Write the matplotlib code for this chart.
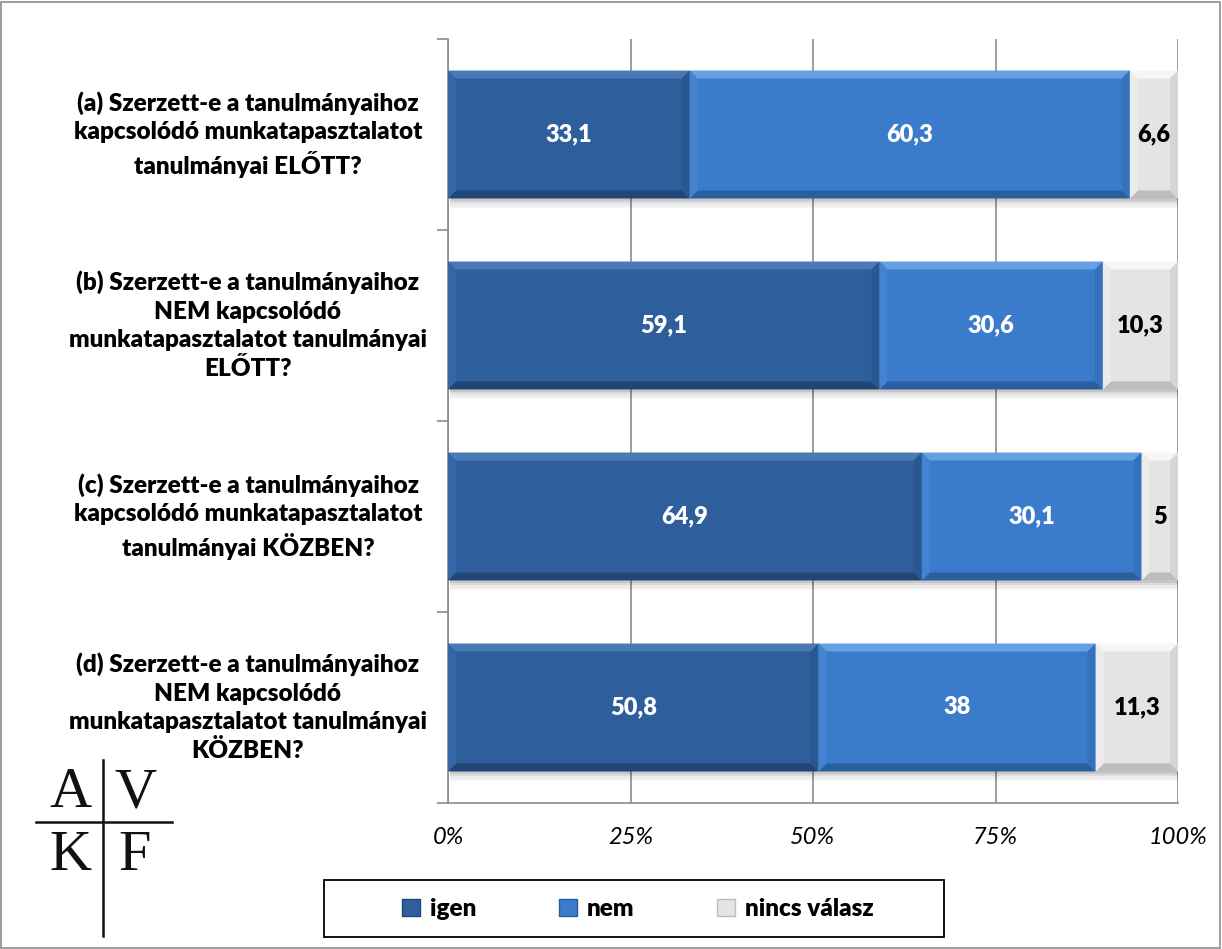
import matplotlib
matplotlib.use("Agg")
import matplotlib.pyplot as plt
from matplotlib.patches import Rectangle, Patch, Polygon
from matplotlib.lines import Line2D
from matplotlib.transforms import blended_transform_factory
import numpy as np

categories = [
    "(a) Szerzett-e a tanulmányaihoz\nkapcsolódó munkatapasztalatot\ntanulmányai ELŐTT?",
    "(b) Szerzett-e a tanulmányaihoz\nNEM kapcsolódó\nmunkatapasztalatot tanulmányai\nELŐTT?",
    "(c) Szerzett-e a tanulmányaihoz\nkapcsolódó munkatapasztalatot\ntanulmányai KÖZBEN?",
    "(d) Szerzett-e a tanulmányaihoz\nNEM kapcsolódó\nmunkatapasztalatot tanulmányai\nKÖZBEN?",
]
series_names = ["igen", "nem", "nincs válasz"]
igen = [33.1, 59.1, 64.9, 50.8]
nem = [60.3, 30.6, 30.1, 38.0]
nincs = [6.6, 10.3, 5.0, 11.3]
tick_labels = ["0%", "25%", "50%", "75%", "100%"]

colors = ["#2E5E9B", "#3B7BCB", "#E4E4E4"]
bevel_top = ["#4A7AB6", "#65A0E2", "#F6F6F6"]
bevel_left = ["#3566A5", "#4483D0", "#EBEBEB"]
bevel_right = ["#2A5790", "#3571BC", "#D6D6D6"]
bevel_bottom = ["#214676", "#2B5E9F", "#BDBDBD"]
text_colors = ["white", "white", "black"]

W, H = 1222, 949
fig = plt.figure(figsize=(W / 100, H / 100), dpi=100)
ax_l, ax_r, ax_t, ax_b = 448, 1178, 39, 803
ax = fig.add_axes([ax_l / W, 1 - ax_b / H, (ax_r - ax_l) / W, (ax_b - ax_t) / H])

FONT = "Lato"
WEIGHT = "heavy"
data = np.array([igen, nem, nincs])
totals = data.sum(axis=0)
pct = data / totals * 100
n = len(categories)
ypos = np.arange(n)[::-1]  # first category at top
bar_h = 0.67

ax.set_xlim(0, 100)
ax.set_ylim(-0.5, n - 0.5)

px_x = 100 / (ax_r - ax_l)
px_y = n / (ax_b - ax_t)
bx, by = 8 * px_x, 8 * px_y

left = np.zeros(n)
for i in range(3):
    bars = ax.barh(ypos, pct[i], left=left, height=bar_h, color=colors[i],
                   edgecolor="none", linewidth=0, zorder=3)
    for j, b in enumerate(bars):
        x0, y0, w, h = b.get_x(), b.get_y(), b.get_width(), b.get_height()
        x1, y1 = x0 + w, y0 + h
        ex = min(bx, w / 2.5)
        ax.add_patch(Polygon([(x0, y1), (x1, y1), (x1 - ex, y1 - by), (x0 + ex, y1 - by)],
                             closed=True, facecolor=bevel_top[i], edgecolor="none", zorder=4))
        ax.add_patch(Polygon([(x0, y0), (x1, y0), (x1 - ex, y0 + by), (x0 + ex, y0 + by)],
                             closed=True, facecolor=bevel_bottom[i], edgecolor="none", zorder=4))
        ax.add_patch(Polygon([(x0, y0), (x0, y1), (x0 + ex, y1 - by), (x0 + ex, y0 + by)],
                             closed=True, facecolor=bevel_left[i], edgecolor="none", zorder=4))
        ax.add_patch(Polygon([(x1, y0), (x1, y1), (x1 - ex, y1 - by), (x1 - ex, y0 + by)],
                             closed=True, facecolor=bevel_right[i], edgecolor="none", zorder=4))
        for k, a in enumerate([0.22, 0.14, 0.08, 0.04]):
            ax.add_patch(Rectangle((x0 + 2 * px_x, y0 - (k + 1) * 2.5 * px_y), w,
                                   2.5 * px_y, facecolor="black", alpha=a,
                                   edgecolor="none", zorder=2))
        val = data[i][j]
        txt = f"{val:g}".replace(".", ",")
        ax.text(x0 + w / 2, ypos[j], txt, ha="center", va="center",
                color=text_colors[i], fontsize=17, fontweight=WEIGHT,
                family=FONT, zorder=6)
    left += pct[i]

ax.set_xticks([0, 25, 50, 75, 100])
ax.set_xticklabels(tick_labels, fontsize=17, fontstyle="italic", family=FONT)
ax.tick_params(axis="x", length=0, pad=17)
ax.xaxis.grid(True, color="#8C8C8C", linewidth=1.2, zorder=0)
ax.set_axisbelow(True)

ax.set_yticks(np.arange(-0.5, n, 1.0))
ax.set_yticklabels([])
ax.tick_params(axis="y", length=8, color="#8C8C8C", width=1.2, direction="out")

for s in ["top", "right"]:
    ax.spines[s].set_visible(False)
for s in ["left", "bottom"]:
    ax.spines[s].set_color("#8C8C8C")
    ax.spines[s].set_linewidth(1.2)

trans = blended_transform_factory(fig.transFigure, ax.transData)
for j, lab in enumerate(categories):
    ax.text(248 / W, ypos[j], lab, transform=trans, ha="center", va="center",
            fontsize=17.5, fontweight=WEIGHT, family=FONT, linespacing=1.35,
            multialignment="center")

handles = [Patch(facecolor=colors[i], edgecolor=bevel_bottom[i]) for i in range(3)]
leg = fig.legend(handles, series_names, loc="center",
                 bbox_to_anchor=(638 / W, 1 - 909 / H), ncol=3, frameon=False,
                 handlelength=0.75, handleheight=0.75, handletextpad=0.4,
                 columnspacing=3.4,
                 prop={"family": FONT, "weight": WEIGHT, "size": 17.5})
fig.add_artist(Rectangle((324 / W, 1 - 937 / H), (944 - 324) / W, (937 - 880) / H,
                         transform=fig.transFigure, fill=False, edgecolor="black",
                         linewidth=1.3))

for ch, (x, y) in zip("AVKF", [(70, 793), (135, 793), (70, 856), (135, 856)]):
    fig.text(x / W, 1 - y / H, ch, ha="center", va="center", fontsize=42,
             family="Liberation Serif", color="#111111")
fig.add_artist(Line2D([36 / W, 172 / W], [1 - 822 / H, 1 - 822 / H], color="#111111", lw=1.8))
fig.add_artist(Line2D([103 / W, 103 / W], [1 - 760 / H, 1 - 936 / H], color="#111111", lw=1.8))

fig.add_artist(Rectangle((1 / W, 1 / H), (W - 3) / W, (H - 3) / H, transform=fig.transFigure,
                         fill=False, edgecolor="#8C8C8C", linewidth=1.2))

fig.savefig("out.png", dpi=100)
